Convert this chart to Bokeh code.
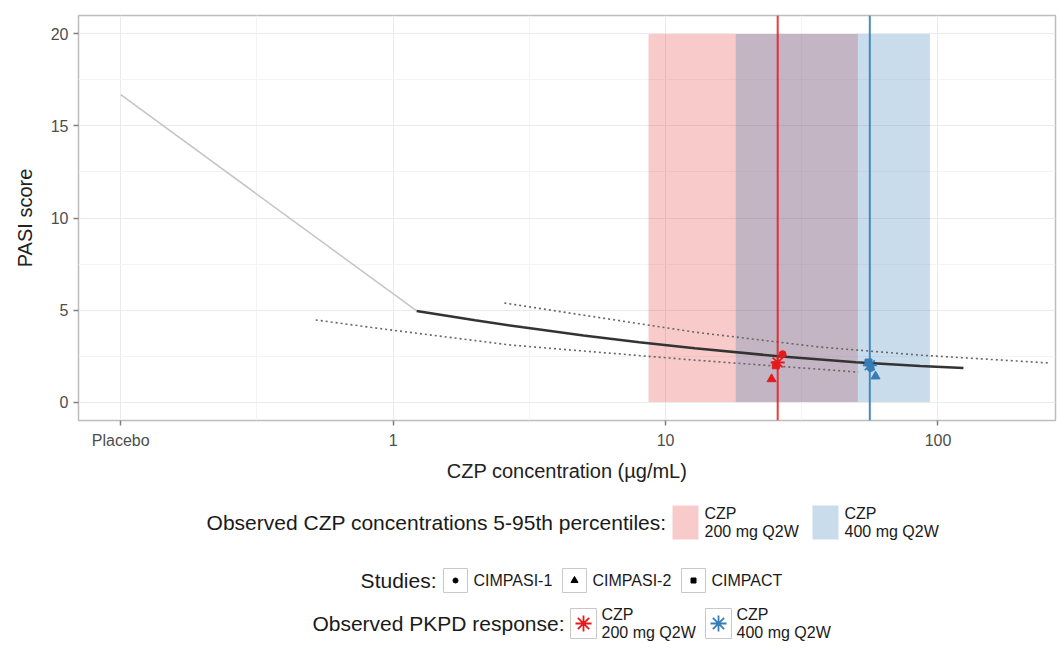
from bokeh.plotting import figure
from bokeh.models import Range1d, FixedTicker, Span
from bokeh.layouts import column
from bokeh.embed import file_html
from bokeh.resources import INLINE
from bokeh.core.properties import value

# ---------------- data ----------------
x_ticks = [0.1, 1, 10, 100]
x_tick_labels = ["Placebo", "1", "10", "100"]
x_minor = [0.316, 3.16, 31.6]
y_ticks = [0, 5, 10, 15, 20]
y_minor = [2.5, 7.5, 12.5, 17.5]

placebo_x = [0.1, 1.22]
placebo_y = [16.7, 4.95]

model_x = [1.22, 2.0, 3.0, 5.0, 8.0, 12.8, 26.0, 50.0, 86.0, 124.0]
model_y = [4.95, 4.44, 4.06, 3.62, 3.25, 2.92, 2.49, 2.17, 1.96, 1.85]

lower_x = [0.52, 1.0, 2.69, 12.8, 51.0]
lower_y = [4.46, 3.9, 3.1, 2.28, 1.63]

upper_x = [2.56, 12.8, 36.8, 86.0, 259.0]
upper_y = [5.38, 3.8, 2.99, 2.55, 2.12]

band200 = [8.66, 50.8]   # 5th, 95th percentile, CZP 200 mg Q2W
band400 = [18.1, 93.4]   # 5th, 95th percentile, CZP 400 mg Q2W
band_y = [0, 20]

median200 = 25.8
median400 = 56.2

obs200_x = [25.8]
obs200_y = [2.15]
obs400_x = [56.2]
obs400_y = [2.0]

studies = ["CIMPASI-1", "CIMPASI-2", "CIMPACT"]
study_markers = ["circle", "triangle", "square"]
study200_x = [26.9, 24.5, 25.4]
study200_y = [2.6, 1.25, 2.0]
study400_x = [56.6, 59.0, 55.6]
study400_y = [1.85, 1.4, 2.15]

doses = ["200 mg Q2W", "400 mg Q2W"]

RED = "#E41A1C"
BLUE = "#377EB8"
FONT = "Liberation Sans"

# ---------------- main plot ----------------
p = figure(width=1057, height=490, x_axis_type="log",
           x_range=Range1d(0.07, 270), y_range=Range1d(-1.0, 21.0),
           output_backend="svg", toolbar_location=None,
           min_border_left=78, min_border_right=2, min_border_top=15,
           min_border_bottom=70)
p.frame_width = 977
p.frame_height = 405
p.background_fill_color = "white"
p.outline_line_color = "#bdbdbd"
p.outline_line_width = 1.5

p.xaxis.ticker = FixedTicker(ticks=x_ticks, minor_ticks=x_minor)
p.xaxis.major_label_overrides = {t: l for t, l in zip(x_ticks, x_tick_labels)}
p.yaxis.ticker = FixedTicker(ticks=y_ticks, minor_ticks=y_minor)
for ax in (p.xaxis, p.yaxis):
    ax.axis_line_color = None
    ax.major_tick_in = 0
    ax.major_tick_out = 5
    ax.minor_tick_in = 0
    ax.minor_tick_out = 0
    ax.major_tick_line_color = "#7f7f7f"
    ax.major_tick_line_width = 1.5
    ax.major_label_text_font = FONT
    ax.major_label_text_font_size = "16px"
    ax.major_label_text_color = "#4d4d4d"
    ax.axis_label_text_font = FONT
    ax.axis_label_text_font_size = "20px"
    ax.axis_label_text_font_style = "normal"
    ax.axis_label_text_color = "#222222"
p.xaxis.axis_label = "CZP concentration (µg/mL)"
p.yaxis.axis_label = "PASI score"
p.xaxis.major_label_standoff = 6
p.xaxis.axis_label_standoff = 8
p.yaxis.major_label_standoff = 5
p.yaxis.axis_label_standoff = 12

p.grid.grid_line_color = "#ebebeb"
p.grid.grid_line_width = 1
p.grid.minor_grid_line_color = "#f4f4f4"
p.grid.minor_grid_line_width = 1

# percentile bands
p.quad(left=[band200[0]], right=[band200[1]], bottom=[band_y[0]], top=[band_y[1]],
       fill_color=RED, fill_alpha=0.23, line_color=None)
p.quad(left=[band400[0]], right=[band400[1]], bottom=[band_y[0]], top=[band_y[1]],
       fill_color=BLUE, fill_alpha=0.27, line_color=None)

# model lines
p.line(placebo_x, placebo_y, line_color="#c4c4c4", line_width=1.5)
p.line(model_x, model_y, line_color="#333333", line_width=2.5)
p.line(lower_x, lower_y, line_color="#666666", line_width=1.6, line_dash="2 3")
p.line(upper_x, upper_y, line_color="#666666", line_width=1.6, line_dash="2 3")

# medians
p.add_layout(Span(location=median200, dimension="height", line_color=RED, line_width=2, line_alpha=0.85))
p.add_layout(Span(location=median400, dimension="height", line_color=BLUE, line_width=2, line_alpha=0.9))

# study points
for i, m in enumerate(study_markers):
    sz = 9 if m == "triangle" else 7
    p.scatter([study200_x[i]], [study200_y[i]], marker=m, size=sz, fill_color=RED, line_color=RED)
    p.scatter([study400_x[i]], [study400_y[i]], marker=m, size=sz, fill_color=BLUE, line_color=BLUE)

p.scatter(obs200_x, obs200_y, marker="asterisk", size=14, line_color=RED, line_width=1.8)
p.scatter(obs400_x, obs400_y, marker="asterisk", size=14, line_color=BLUE, line_width=1.8)

# ---------------- legends (page-pixel coordinates) ----------------
lg = figure(width=1057, height=158, x_range=Range1d(78, 1055), y_range=Range1d(648, 490),
            output_backend="svg", toolbar_location=None,
            x_axis_location=None, y_axis_location=None,
            min_border_left=78, min_border_right=2, min_border_top=0, min_border_bottom=0)
lg.frame_width = 977
lg.frame_height = 158
lg.outline_line_color = None
lg.grid.visible = False

TITLE_SIZE = "21px"
LAB_SIZE = "16px"

def txt(x, y, s, align="left", size=LAB_SIZE):
    lg.text(x=[x], y=[y], text=[s], text_align=align, text_baseline="middle",
            text_font=value(FONT), text_font_size=size, text_color="#1a1a1a")

# row 1: percentile bands
r1 = 522
txt(666, r1, "Observed CZP concentrations 5-95th percentiles:", "right", TITLE_SIZE)
bx = [685, 825]
fills = [(RED, 0.23), (BLUE, 0.27)]
for i in range(2):
    lg.quad(left=[bx[i] - 13], right=[bx[i] + 13], bottom=[r1 + 17], top=[r1 - 17],
            fill_color=fills[i][0], fill_alpha=fills[i][1], line_color=None)
    txt(bx[i] + 19, r1 - 9, "CZP")
    txt(bx[i] + 19, r1 + 9, doses[i])

# row 2: studies
r2 = 580
txt(436, r2, "Studies:", "right", TITLE_SIZE)
sx = [455, 574, 693]
for i, m in enumerate(study_markers):
    lg.quad(left=[sx[i] - 12], right=[sx[i] + 12], bottom=[r2 + 12], top=[r2 - 12],
            fill_color="white", line_color="#c8c8c8", line_width=1)
    lg.scatter([sx[i]], [r2], marker=m, size=7 if m == "triangle" else 5,
               fill_color="black", line_color="black")
    txt(sx[i] + 18, r2, studies[i])

# row 3: observed PKPD response
r3 = 623
txt(564, r3, "Observed PKPD response:", "right", TITLE_SIZE)
px = [583, 718]
cols = [RED, BLUE]
for i in range(2):
    lg.quad(left=[px[i] - 13], right=[px[i] + 13], bottom=[r3 + 15], top=[r3 - 15],
            fill_color="white", line_color="#c8c8c8", line_width=1)
    lg.scatter([px[i]], [r3], marker="asterisk", size=16, line_color=cols[i], line_width=1.8)
    txt(px[i] + 18, r3 - 9, "CZP")
    txt(px[i] + 18, r3 + 9, doses[i])

layout = column(p, lg, spacing=0)
open("out.html", "w").write(file_html(layout, INLINE))
